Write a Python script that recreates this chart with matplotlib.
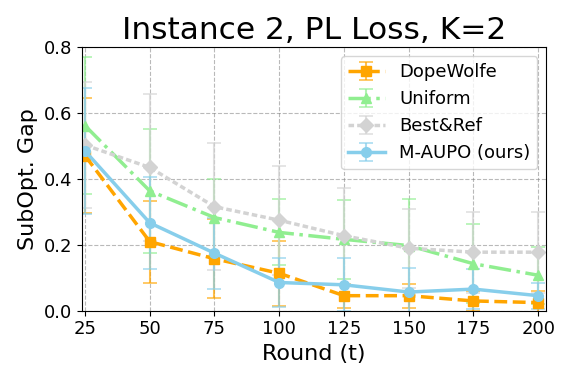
import numpy as np
from matplotlib import pyplot as plt

rounds = [25, 50, 75, 100, 125, 150, 175, 200]

dope_mean = [0.470, 0.209, 0.157, 0.113, 0.045, 0.045, 0.029, 0.024]
dope_std = [0.175, 0.124, 0.120, 0.098, 0.036, 0.036, 0.030, 0.035]

unif_mean = [0.561, 0.363, 0.282, 0.237, 0.216, 0.197, 0.142, 0.107]
unif_std = [0.207, 0.187, 0.118, 0.100, 0.120, 0.140, 0.120, 0.087]

best_mean = [0.502, 0.434, 0.315, 0.274, 0.227, 0.189, 0.177, 0.177]
best_std = [0.190, 0.223, 0.193, 0.166, 0.146, 0.120, 0.123, 0.123]

maupo_mean = [0.484, 0.266, 0.174, 0.085, 0.078, 0.056, 0.065, 0.045]
maupo_std = [0.190, 0.140, 0.108, 0.073, 0.080, 0.074, 0.060, 0.040]

labels = ['DopeWolfe', 'Uniform', 'Best&Ref', 'M-AUPO (ours)']
colors = ['orange', 'lightgreen', 'lightgray', 'skyblue']
markers = ['s', '^', 'D', 'o']
styles = ['--', '-.', (0, (1.6, 0.9)), '-']

fig = plt.figure(figsize=(5.71, 3.81), dpi=100)
ax = fig.add_axes([0.143, 0.185, 0.814, 0.692])

series = [(dope_mean, dope_std), (unif_mean, unif_std),
          (best_mean, best_std), (maupo_mean, maupo_std)]
for (m, s), lab, c, mk, ls in zip(series, labels, colors, markers, styles):
    cont = ax.errorbar(rounds, m, yerr=s, label=lab, color=c, marker=mk,
                       linestyle=ls, linewidth=2.5, markersize=7,
                       capsize=5, elinewidth=1.5, capthick=1.2)
    # lighter error bars
    for b in cont[1]:
        b.set_alpha(0.7)
    for b in cont[2]:
        b.set_alpha(0.7)

ax.set_xlim(23.7, 203.2)
ax.set_ylim(0, 0.8)
ax.set_xticks(rounds)
ax.set_yticks([0.0, 0.2, 0.4, 0.6, 0.8])
ax.tick_params(labelsize=13)
ax.set_xlabel('Round (t)', fontsize=16)
ax.set_ylabel('SubOpt. Gap', fontsize=16)
ax.set_title('Instance 2, PL Loss, K=2', fontsize=22.5)
ax.grid(True, linestyle='--', color='gray', alpha=0.55)
ax.legend(fontsize=13, loc='upper right')

fig.savefig('out.png', dpi=100)
